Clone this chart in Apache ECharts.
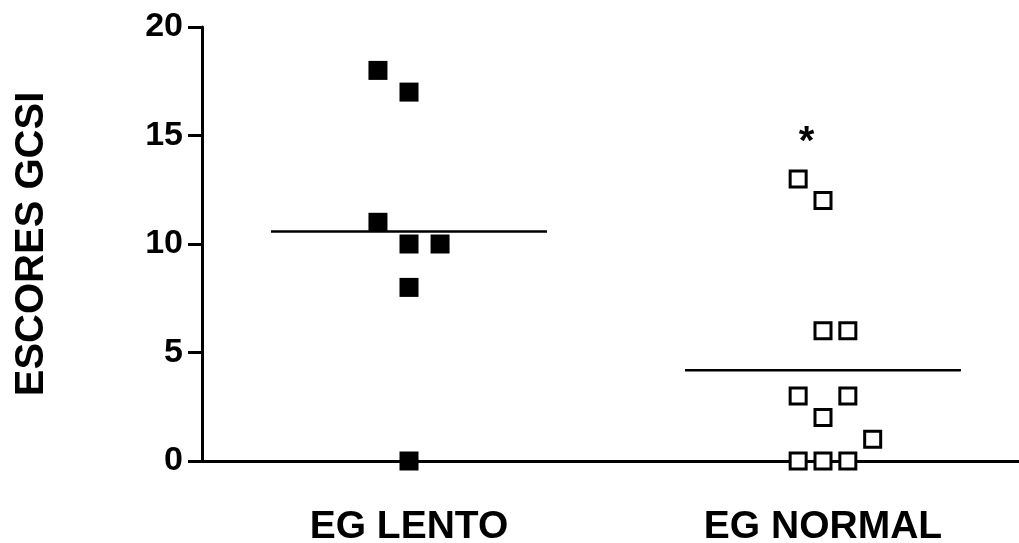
<!DOCTYPE html>
<html>
<head>
<meta charset="utf-8">
<script src="https://cdn.jsdelivr.net/npm/echarts@6/dist/echarts.min.js"></script>
<style>
  html, body { margin: 0; padding: 0; background: #fff; }
  #chart { width: 1019px; height: 543px; }
</style>
</head>
<body>
<div id="chart"></div>
<script>
// ---- data ----
const categories = ['EG LENTO', 'EG NORMAL'];
const yTicks = [0, 5, 10, 15, 20];
const lentoValues = [18, 17, 11, 10, 10, 8, 0];
const lentoColumns = [-1, 0, -1, 0, 1, 0, 0];
const normalValues = [13, 12, 6, 6, 3, 3, 2, 1, 0, 0, 0];
const normalColumns = [-1, 0, 0, 1, -1, 1, 0, 2, -1, 0, 1];
const significanceMark = '*';
const significanceValue = 15;
const yTitle = 'ESCORES GCSI';

// ---- helpers ----
const mean = a => a.reduce((s, v) => s + v, 0) / a.length;
const lentoSpread = 0.075, normalSpread = 0.06, meanHalf = 1 / 3;
const lentoPts = lentoValues.map((v, i) => [1 + lentoColumns[i] * lentoSpread, v]);
const normalPts = normalValues.map((v, i) => [2 + normalColumns[i] * normalSpread, v]);
const lm = mean(lentoValues), nm = mean(normalValues);

const FONT = '"Liberation Sans", Arial, sans-serif';
const chart = echarts.init(document.getElementById('chart'), null, { renderer: 'canvas' });
chart.setOption({
  animation: false,
  backgroundColor: '#fff',
  grid: { left: 202, top: 27, width: 828, bottom: 82, containLabel: false, outerBoundsMode: 'none' },
  xAxis: [
    {
      type: 'category', data: categories, boundaryGap: true,
      axisLine: { lineStyle: { color: '#000', width: 3 } },
      axisTick: { show: false },
      axisLabel: { color: '#000', fontFamily: FONT, fontWeight: 'bold', fontSize: 39, margin: 47 },
      splitLine: { show: false }
    },
    { type: 'value', min: 0.5, max: 2.5, show: false, splitLine: { show: false } }
  ],
  yAxis: {
    type: 'value', min: yTicks[0], max: yTicks[yTicks.length - 1], interval: 5,
    name: yTitle, nameLocation: 'middle', nameRotate: 90, nameGap: 150,
    nameTextStyle: { color: '#000', fontFamily: FONT, fontWeight: 'bold', fontSize: 40 },
    axisLine: { show: true, lineStyle: { color: '#000', width: 3 } },
    axisTick: { show: true, inside: false, length: 14, lineStyle: { color: '#000', width: 3 } },
    axisLabel: { color: '#000', fontFamily: FONT, fontWeight: 'bold', fontSize: 34, margin: 19 },
    splitLine: { show: false }
  },
  series: [
    {
      type: 'line', xAxisIndex: 1, data: [[1 - meanHalf, lm], [1 + meanHalf, lm]],
      symbol: 'none', lineStyle: { color: '#000', width: 2.5 }, z: 1
    },
    {
      type: 'line', xAxisIndex: 1, data: [[2 - meanHalf, nm], [2 + meanHalf, nm]],
      symbol: 'none', lineStyle: { color: '#000', width: 2.5 }, z: 1
    },
    {
      type: 'scatter', xAxisIndex: 1, data: lentoPts, symbol: 'rect', symbolSize: 19,
      itemStyle: { color: '#000', opacity: 1 }, z: 3
    },
    {
      type: 'scatter', xAxisIndex: 1, data: normalPts, symbol: 'rect', symbolSize: 16,
      itemStyle: { color: '#fff', borderColor: '#000', borderWidth: 3, opacity: 1 }, z: 3
    },
    {
      type: 'scatter', xAxisIndex: 1, data: [[2 - 0.04, significanceValue]], symbolSize: 0,
      itemStyle: { opacity: 1 },
      label: { show: true, position: 'inside', formatter: significanceMark, color: '#000',
               fontFamily: FONT, fontWeight: 'bold', fontSize: 40, offset: [0, 7] }, z: 4
    }
  ]
});
</script>
</body>
</html>
